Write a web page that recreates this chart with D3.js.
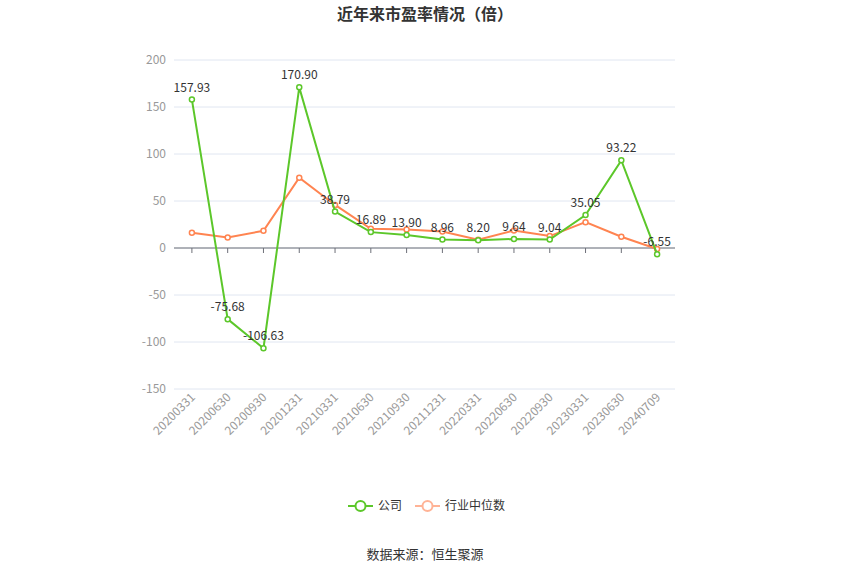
<!DOCTYPE html>
<html><head><meta charset="utf-8">
<script src="https://cdn.jsdelivr.net/npm/d3@7"></script>
<style>body{margin:0;background:#fff;font-family:"Noto Sans CJK SC","Noto Sans",sans-serif}</style>
</head><body><svg id="c" width="850" height="575"></svg>
<script>
// données
var dates = ['20200331','20200630','20200930','20201231','20210331','20210630','20210930','20211231','20220331','20220630','20220930','20230331','20230630','20240709'];
var company = [157.93,-75.68,-106.63,170.90,38.79,16.89,13.90,8.96,8.20,9.64,9.04,35.05,93.22,-6.55];
var industry = [16.2,11.3,18.3,74.7,45.8,20.4,19.7,17.6,8.8,18.7,12.7,27.5,12,-1.1];
var yTicks = [-150,-100,-50,0,50,100,150,200];

var svg = d3.select('#c');
var x = d3.scaleBand().domain(dates).range([174,675]);
var y = d3.scaleLinear().domain([-150,200]).range([389,60]);
var cx = d => x(d) + x.bandwidth()/2;

// titre
svg.append('text').attr('x',425).attr('y',20).attr('text-anchor','middle')
  .attr('font-size',16).attr('font-weight','bold').attr('fill','#333').text('近年来市盈率情况（倍）');

// grille
svg.selectAll('.g').data(yTicks).enter().append('line')
  .attr('x1',174).attr('x2',675).attr('y1',d=>y(d)).attr('y2',d=>y(d))
  .attr('stroke','#e0e6f1');
svg.selectAll('.yl').data(yTicks).enter().append('text')
  .attr('x',166).attr('y',d=>y(d)+4).attr('text-anchor','end')
  .attr('font-size',12).attr('fill','#999').text(d=>d);

// axe zéro
svg.append('line').attr('x1',174).attr('x2',675).attr('y1',y(0)).attr('y2',y(0)).attr('stroke','#6e7079');
svg.selectAll('.tk').data(dates).enter().append('line')
  .attr('x1',d=>cx(d)).attr('x2',d=>cx(d)).attr('y1',y(0)).attr('y2',y(0)+5).attr('stroke','#6e7079');
svg.selectAll('.xl').data(dates).enter().append('text')
  .attr('transform',d=>'translate('+(cx(d)+4)+',398) rotate(-45)')
  .attr('text-anchor','end').attr('font-size',12).attr('fill','#999').text(d=>d);

function drawSeries(vals,color){
  var line = d3.line().x((v,i)=>cx(dates[i])).y(v=>y(v));
  svg.append('path').datum(vals).attr('d',line).attr('fill','none').attr('stroke',color).attr('stroke-width',2);
  svg.selectAll(null).data(vals).enter().append('circle')
    .attr('cx',(v,i)=>cx(dates[i])).attr('cy',v=>y(v)).attr('r',2.5)
    .attr('fill','#fff').attr('stroke',color).attr('stroke-width',1.5);
}
drawSeries(industry,'#ff8451');
drawSeries(company,'#5cc72a');

// étiquettes
svg.selectAll('.lab').data(company).enter().append('text')
  .attr('x',(v,i)=>cx(dates[i])).attr('y',v=>y(v)-8)
  .attr('text-anchor','middle').attr('font-size',12).attr('fill','#333')
  .text(v=>v.toFixed(2));

// légende
var lg = svg.append('g').attr('transform','translate(348,506)');
lg.append('line').attr('x1',0).attr('x2',25).attr('stroke','#5cc72a').attr('stroke-width',2);
lg.append('circle').attr('cx',12.5).attr('r',5).attr('fill','#fff').attr('stroke','#5cc72a').attr('stroke-width',2);
lg.append('text').attr('x',30).attr('y',4).attr('font-size',12).attr('fill','#333').text('公司');
lg.append('line').attr('x1',67).attr('x2',92).attr('stroke','#ffb396').attr('stroke-width',2);
lg.append('circle').attr('cx',79.5).attr('r',5).attr('fill','#fff').attr('stroke','#ffb396').attr('stroke-width',2);
lg.append('text').attr('x',97).attr('y',4).attr('font-size',12).attr('fill','#333').text('行业中位数');

svg.append('text').attr('x',425).attr('y',559).attr('text-anchor','middle')
  .attr('font-size',13).attr('fill','#333').text('数据来源：恒生聚源');
</script></body></html>
